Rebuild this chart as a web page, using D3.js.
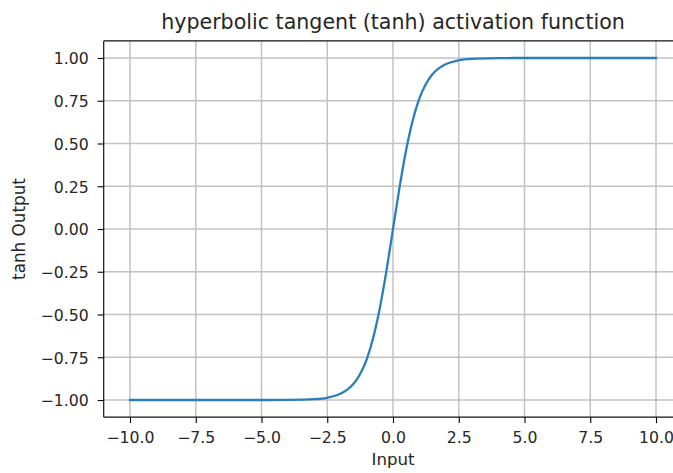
<!DOCTYPE html>
<html><head><meta charset="utf-8">
<script src="https://cdn.jsdelivr.net/npm/d3@7"></script>
<style>
html,body{margin:0;padding:0;background:#fff;}
svg{display:block;}
text{font-family:"DejaVu Sans",sans-serif;}
</style></head>
<body>
<svg id="chart" width="673" height="473"></svg>
<script>
// Values
const inputX = [-10, -5, -4, -3, -2.5, -2, -1.75, -1.5, -1.25, -1, -0.75, -0.5, -0.25, 0, 0.25, 0.5, 0.75, 1, 1.25, 1.5, 1.75, 2, 2.5, 3, 4, 5, 10];
const tanhOutput = [-1.0, -1.0, -0.999, -0.995, -0.987, -0.964, -0.941, -0.905, -0.848, -0.762, -0.635, -0.462, -0.245, 0, 0.245, 0.462, 0.635, 0.762, 0.848, 0.905, 0.941, 0.964, 0.987, 0.995, 0.999, 1.0, 1.0];
const xTickValues = [-10, -7.5, -5, -2.5, 0, 2.5, 5, 7.5, 10];
const yTickValues = [-1, -0.75, -0.5, -0.25, 0, 0.25, 0.5, 0.75, 1];
const titleText = "hyperbolic tangent (tanh) activation function";
const xLabel = "Input";
const yLabel = "tanh Output";

const svg = d3.select("#chart");
const L = 103.7, R = 682.3, T = 40.9, B = 417.1;
const x = d3.scaleLinear().domain([-11, 11]).range([L, R]);
const y = d3.scaleLinear().domain([-1.1, 1.1]).range([B, T]);
const txt = "#262626";

// grid
const grid = svg.append("g");
grid.selectAll(".gx").data(xTickValues).join("line")
  .attr("x1", d => x(d)).attr("x2", d => x(d)).attr("y1", T).attr("y2", B)
  .attr("stroke", "#c2c2c2").attr("stroke-width", 1.5);
grid.selectAll(".gy").data(yTickValues).join("line")
  .attr("y1", d => y(d)).attr("y2", d => y(d)).attr("x1", L).attr("x2", R)
  .attr("stroke", "#c2c2c2").attr("stroke-width", 1.5);

// line
const pts = inputX.map((v, i) => [v, tanhOutput[i]]);
svg.append("path").datum(pts)
  .attr("fill", "none").attr("stroke", "#2a7fba").attr("stroke-width", 2.3)
  .attr("stroke-linecap", "square")
  .attr("d", d3.line().x(d => x(d[0])).y(d => y(d[1])).curve(d3.curveMonotoneX));

// axes
const fmtX = d3.format(".1f"), fmtY = d3.format(".2f");
const xAxis = svg.append("g").attr("transform", `translate(0,${B})`)
  .call(d3.axisBottom(x).tickValues(xTickValues).tickFormat(fmtX).tickSize(6).tickPadding(8).tickSizeOuter(0));
const yAxis = svg.append("g").attr("transform", `translate(${L},0)`)
  .call(d3.axisLeft(y).tickValues(yTickValues).tickFormat(fmtY).tickSize(6).tickPadding(9).tickSizeOuter(0));
[xAxis, yAxis].forEach(a => {
  a.select(".domain").remove();
  a.selectAll(".tick line").attr("stroke", "#000").attr("stroke-width", 1.1);
  a.selectAll(".tick text").attr("fill", txt).style("font-size", "15.7px").style("font-family", "DejaVu Sans");
});
xAxis.selectAll(".tick text").attr("dy", "0.74em");
yAxis.selectAll(".tick text").attr("dy", "0.38em");

// spines
const sp = svg.append("g").attr("stroke", "#111").attr("stroke-width", 1.2).attr("fill", "none");
sp.append("line").attr("x1", L).attr("x2", L).attr("y1", T).attr("y2", B);
sp.append("line").attr("x1", L).attr("x2", R).attr("y1", B).attr("y2", B);
sp.append("line").attr("x1", L).attr("x2", R).attr("y1", T).attr("y2", T);
sp.append("line").attr("x1", R).attr("x2", R).attr("y1", T).attr("y2", B);

// title and labels
svg.append("text").attr("x", (L + R) / 2).attr("y", 29).attr("text-anchor", "middle")
  .attr("fill", txt).style("font-size", "20.6px").text(titleText);
svg.append("text").attr("x", (L + R) / 2).attr("y", 465).attr("text-anchor", "middle")
  .attr("fill", txt).style("font-size", "16.6px").text(xLabel);
svg.append("text").attr("transform", `translate(24.5,${(T + B) / 2}) rotate(-90)`).attr("text-anchor", "middle")
  .attr("fill", txt).style("font-size", "16.8px").text(yLabel);
</script>
</body></html>
